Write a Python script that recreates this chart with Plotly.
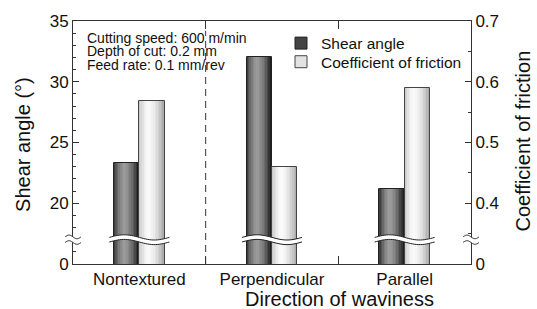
import math
import plotly.graph_objects as go

# ---- data ----
categories = ["Nontextured", "Perpendicular", "Parallel"]
shear_angle = [23.3, 32.0, 21.2]          # degrees (left axis)
friction = [0.568, 0.460, 0.590]          # coefficient of friction (right axis)
left_ticks = [15, 20, 25, 30, 35]
left_ticktext = ["0", "20", "25", "30", "35"]
right_ticks = [0.3, 0.4, 0.5, 0.6, 0.7]
right_ticktext = ["0", "0.4", "0.5", "0.6", "0.7"]
break_value = 17.0
conditions = ["Cutting speed: 600 m/min", "Depth of cut: 0.2 mm", "Feed rate: 0.1 mm/rev"]

FONT = "Liberation Sans, Arial, sans-serif"
W = 0.19       # bar width in category units
N = 16         # gradient slices


def shade(t, lo_l, hi, lo_r, peak):
    if t < peak:
        d = (peak - t) / peak
        lo = lo_l
    else:
        d = (t - peak) / (1 - peak)
        lo = lo_r
    v = hi - (hi - lo) * d ** 1.6
    v = int(round(v))
    return f"rgb({v},{v},{v})"


fig = go.Figure()

# legend-only entries
fig.add_trace(go.Bar(x=[categories[0]], y=[None], name="Shear angle", legend="legend",
                     marker=dict(color="#444", line=dict(color="#222", width=1))))
fig.add_trace(go.Bar(x=[categories[0]], y=[None], name="Coefficient of friction", yaxis="y2",
                     legend="legend2",
                     marker=dict(color="#e2e2e2", line=dict(color="#444", width=1))))

for i in range(N):
    t = (i + 0.5) / N
    fig.add_trace(go.Bar(x=categories, y=shear_angle, offset=-W + i * W / N, width=W / N * 1.02,
                         marker=dict(color=shade(t, 50, 155, 20, 0.42), line=dict(width=0)),
                         showlegend=False, hoverinfo="skip"))
    fig.add_trace(go.Bar(x=categories, y=friction, yaxis="y2", offset=i * W / N, width=W / N * 1.02,
                         marker=dict(color=shade(t, 195, 250, 165, 0.38), line=dict(width=0)),
                         showlegend=False, hoverinfo="skip"))

# outlines
fig.add_trace(go.Bar(x=categories, y=shear_angle, offset=-W, width=W,
                     marker=dict(color="rgba(0,0,0,0)", line=dict(color="#222", width=1)),
                     showlegend=False, hoverinfo="skip"))
fig.add_trace(go.Bar(x=categories, y=friction, yaxis="y2", offset=0, width=W,
                     marker=dict(color="rgba(0,0,0,0)", line=dict(color="#444", width=1)),
                     showlegend=False, hoverinfo="skip"))


def wave(x0, x1, yoff, amp, n=30):
    pts = []
    for k in range(n + 1):
        t = k / n
        pts.append((x0 + (x1 - x0) * t, yoff + amp * math.sin(2 * math.pi * t)))
    return pts


def to_path(pts, close=False):
    s = "M" + " L".join(f"{x:.2f},{y:.2f}" for x, y in pts)
    return s + (" Z" if close else "")


shapes = []


def add_break(xref, xanchor, half, gap, amp):
    top = wave(-half, half, gap, amp)
    bot = wave(-half, half, -gap, amp)
    common = dict(type="path", xref=xref, xanchor=xanchor, xsizemode="pixel",
                  yref="y", yanchor=break_value, ysizemode="pixel", layer="above")
    shapes.append(dict(path=to_path(top + bot[::-1], True), fillcolor="white",
                       line=dict(width=0), **common))
    for p in (top, bot):
        shapes.append(dict(path=to_path(p), fillcolor="rgba(0,0,0,0)",
                           line=dict(color="#222", width=1), **common))


for ci in range(len(categories)):
    add_break("x", ci, 30, 2.3, 2.6)
add_break("paper", 0, 8, 2.8, 1.8)
add_break("paper", 1, 8, 2.8, 1.8)

shapes.append(dict(type="line", xref="x", yref="paper", x0=0.5, x1=0.5, y0=0, y1=0.96,
                   line=dict(color="#333", width=1, dash="7px,5px"), layer="below"))

annotations = []
for k, txt in enumerate(conditions):
    annotations.append(dict(text=txt, xref="paper", yref="paper", x=(85 - 73) / 398,
                            y=(264 - (33 + 14 * k)) / 248, xanchor="left", yanchor="middle",
                            showarrow=False, font=dict(family=FONT, size=14, color="#111")))
annotations.append(dict(text="Direction of waviness", xref="paper", yref="paper",
                        x=(339 - 73) / 398, y=-(300 - 264) / 248, xanchor="center", yanchor="middle",
                        showarrow=False, font=dict(family=FONT, size=20, color="#111")))
annotations.append(dict(text="Shear angle (°)", xref="paper", yref="paper",
                        x=(23.5 - 73) / 398, y=(264 - 142) / 248, xanchor="center", yanchor="middle",
                        textangle=-90, showarrow=False, font=dict(family=FONT, size=20, color="#111")))
annotations.append(dict(text="Coefficient of friction", xref="paper", yref="paper",
                        x=(523 - 73) / 398, y=(264 - 139) / 248, xanchor="center", yanchor="middle",
                        textangle=-90, showarrow=False, font=dict(family=FONT, size=20, color="#111")))

axis_common = dict(showline=True, linecolor="#333", linewidth=1, showgrid=False, zeroline=False,
                   ticks="inside", tickcolor="#333", tickfont=dict(family=FONT, size=17, color="#111"))

legend_common = dict(xanchor="left", yanchor="middle", bgcolor="rgba(0,0,0,0)",
                     font=dict(family=FONT, size=15.5, color="#111"))

fig.update_layout(
    width=537, height=309,
    margin=dict(l=73, r=66, t=16, b=45),
    paper_bgcolor="white", plot_bgcolor="white",
    barmode="overlay", bargap=0,
    showlegend=True,
    legend=dict(x=(281 - 73) / 398, y=(264 - 39) / 248, **legend_common),
    legend2=dict(x=(281 - 73) / 398, y=(264 - 58) / 248, **legend_common),
    xaxis=dict(type="category", range=[-0.5, 2.5], tickson="boundaries", ticklen=8,
               mirror="ticks", **axis_common),
    yaxis=dict(range=[15, 35], tickmode="array", tickvals=left_ticks, ticktext=left_ticktext,
               ticklen=6, minor=dict(tickmode="linear", tick0=15, dtick=1, ticklen=3, ticks="inside",
                                     tickcolor="#333"),
               **axis_common),
    yaxis2=dict(range=[0.3, 0.7], overlaying="y", side="right", tickmode="array", tickvals=right_ticks,
                ticktext=right_ticktext, ticklen=6,
                minor=dict(tickmode="linear", tick0=0.3, dtick=0.05, ticklen=3, ticks="inside",
                           tickcolor="#333"),
                **axis_common),
    shapes=shapes,
    annotations=annotations,
)

fig.write_html("out.html", config={"displayModeBar": False},
               post_script="document.body.style.margin='0';document.body.style.overflow='hidden';")
